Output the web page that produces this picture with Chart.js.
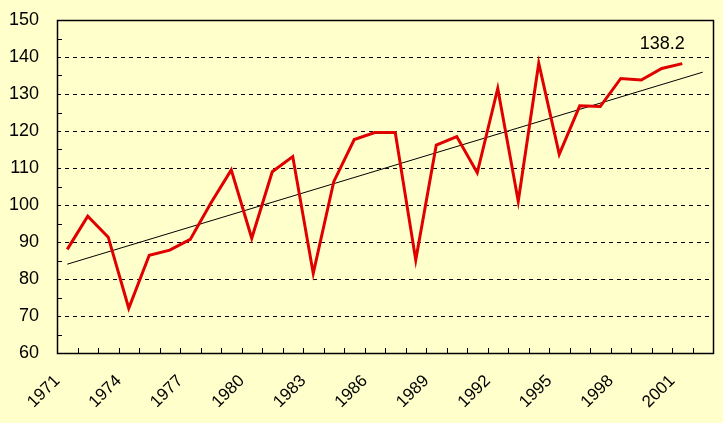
<!DOCTYPE html>
<html lang="en">
<head>
    <meta charset="UTF-8">
    <title>Index 1971-2002</title>
    <script src="https://cdn.jsdelivr.net/npm/chart.js"></script>
    <style>
        body { margin: 0; background: #FFFFCC; }
        canvas { display: block; }
    </style>
</head>
<body>
    <canvas id="chart" width="723" height="423"></canvas>

    <script>
        // Data
        const years = ['1971', '1972', '1973', '1974', '1975', '1976', '1977', '1978', '1979', '1980',
                       '1981', '1982', '1983', '1984', '1985', '1986', '1987', '1988', '1989', '1990',
                       '1991', '1992', '1993', '1994', '1995', '1996', '1997', '1998', '1999', '2000',
                       '2001', '2002'];
        const values = [88.0, 97.0, 91.3, 72.1, 86.4, 87.8, 90.7, 100.5, 109.5, 91.0,
                        109.0, 113.1, 81.5, 106.3, 117.7, 119.6, 119.6, 85.1, 116.2, 118.5,
                        108.7, 131.5, 101.0, 138.3, 113.7, 126.8, 126.6, 134.2, 133.8, 136.9,
                        138.2, null];
        // linear trend: only the two end points are given, the line spans the gap
        const trend = [84.0, null, null, null, null, null, null, null, null, null,
                       null, null, null, null, null, null, null, null, null, null,
                       null, null, null, null, null, null, null, null, null, null,
                       null, 135.9];
        const yTicks = [60, 70, 80, 90, 100, 110, 120, 130, 140, 150];

        // frame, inside tick marks and the end label
        const framePlugin = {
            id: 'frame',
            afterDatasetsDraw(chart) {
                const { ctx, chartArea: a, scales: { x, y } } = chart;
                ctx.save();
                ctx.strokeStyle = '#000';
                ctx.lineWidth = 1;
                ctx.beginPath();
                // x ticks between categories, pointing up
                for (let i = 1; i < years.length; i++) {
                    const px = Math.round((x.getPixelForValue(i - 1) + x.getPixelForValue(i)) / 2) + 0.5;
                    ctx.moveTo(px, a.bottom);
                    ctx.lineTo(px, a.bottom - 5);
                }
                // minor y ticks, pointing right
                for (let v = yTicks[0] + 5; v < yTicks[yTicks.length - 1]; v += 10) {
                    const py = Math.round(y.getPixelForValue(v)) + 0.5;
                    ctx.moveTo(a.left, py);
                    ctx.lineTo(a.left + 5, py);
                }
                ctx.stroke();
                ctx.lineWidth = 1.5;
                ctx.strokeRect(Math.round(a.left) + 0.5, Math.round(a.top) + 0.5,
                    Math.round(a.right - a.left), Math.round(a.bottom - a.top));

                // value label of the last year with data
                let last = values.length - 1;
                while (values[last] == null) last--;
                const meta = chart.getDatasetMeta(0).data[last];
                ctx.fillStyle = '#000';
                ctx.font = '18px "Liberation Sans", Arial, sans-serif';
                ctx.textAlign = 'center';
                ctx.textBaseline = 'middle';
                ctx.fillText(values[last].toFixed(1), meta.x - 20, meta.y - 20);
                ctx.restore();
            }
        };

        new Chart(document.getElementById('chart'), {
            type: 'line',
            data: {
                labels: years,
                datasets: [{
                    data: values,
                    borderColor: '#E00000',
                    borderWidth: 3,
                    pointRadius: 0,
                    tension: 0,
                }, {
                    data: trend,
                    borderColor: '#000000',
                    borderWidth: 1,
                    pointRadius: 0,
                    spanGaps: true,
                }]
            },
            options: {
                responsive: false,
                animation: false,
                devicePixelRatio: 1,
                layout: { padding: { top: 20, right: 10, left: 0, bottom: 0 } },
                plugins: {
                    legend: { display: false },
                    tooltip: { enabled: false },
                },
                scales: {
                    x: {
                        offset: true,
                        grid: { display: false },
                        border: { display: false },
                        ticks: {
                            autoSkip: false,
                            maxRotation: 45,
                            minRotation: 45,
                            labelOffset: -10,
                            padding: 10,
                            color: '#000',
                            font: { family: '"Liberation Sans", Arial, sans-serif', size: 17 },
                            callback: (v, i) => (i % 3 === 0 ? years[i] : ''),
                        },
                        afterFit: (s) => {
                            s.height = 70;
                            s.paddingLeft = 0;
                            s.paddingRight = 0;
                        },
                    },
                    y: {
                        min: yTicks[0],
                        max: yTicks[yTicks.length - 1],
                        afterBuildTicks: (s) => { s.ticks = yTicks.map(v => ({ value: v })); },
                        grid: {
                            drawTicks: false,
                            color: (c) => (c.tick && (c.tick.value === yTicks[0] || c.tick.value === yTicks[yTicks.length - 1]) ? 'rgba(0,0,0,0)' : '#000'),
                            lineWidth: 1,
                        },
                        border: { display: false, dash: [4, 4] },
                        ticks: {
                            padding: 18,
                            color: '#000',
                            font: { family: '"Liberation Sans", Arial, sans-serif', size: 18 },
                        },
                        afterFit: (s) => {
                            s.width = 57;
                            s.paddingTop = 0;
                            s.paddingBottom = 0;
                        },
                    }
                }
            },
            plugins: [framePlugin]
        });
    </script>
</body>
</html>
